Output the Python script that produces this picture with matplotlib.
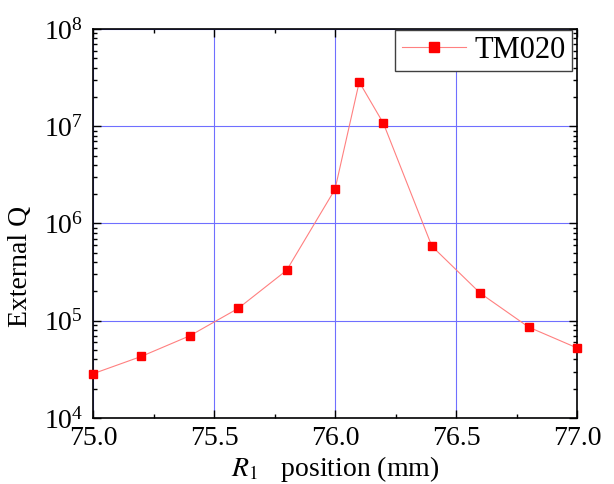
import matplotlib
matplotlib.use("Agg")
import matplotlib.pyplot as plt
from matplotlib.ticker import MultipleLocator, LogLocator, NullFormatter, FormatStrFormatter
import numpy as np

plt.rcParams['font.family'] = ['Liberation Serif', 'DejaVu Serif']
plt.rcParams['mathtext.fontset'] = 'stix'

# datos
posicion = [75.0, 75.2, 75.4, 75.6, 75.8, 76.0, 76.1, 76.2, 76.4, 76.6, 76.8, 77.0]
q_ext = [2.85e4, 4.3e4, 7.0e4, 1.34e5, 3.3e5, 2.25e6, 2.85e7, 1.07e7,
         5.85e5, 1.92e5, 8.6e4, 5.25e4]

fig = plt.figure(figsize=(6.14, 4.84), dpi=100)
ax = fig.add_axes([0.1515, 0.1364, 0.7883, 0.8037])

ax.plot(posicion, q_ext, "-", color="#ff8080", lw=0.8,
        marker="s", markersize=5.5, markerfacecolor="red", markeredgecolor="red",
        label="TM020", clip_on=False, zorder=3)

ax.set_yscale("log")
ax.set_xlim(75.0, 77.0)
ax.set_ylim(1e4, 1e8)

ax.xaxis.set_major_locator(MultipleLocator(0.5))
ax.xaxis.set_minor_locator(MultipleLocator(0.25))
ax.yaxis.set_major_locator(LogLocator(base=10, numticks=10))
ax.yaxis.set_minor_locator(LogLocator(base=10, subs=np.arange(2, 10), numticks=10))
ax.yaxis.set_minor_formatter(NullFormatter())
ax.xaxis.set_major_formatter(FormatStrFormatter("%.1f"))

ax.tick_params(which="both", direction="in", top=True, right=True, labelsize=20, width=1)
ax.tick_params(which="major", length=6)
ax.tick_params(which="minor", length=3)
ax.tick_params(axis="x", pad=6)
ax.tick_params(axis="y", pad=7)

ax.grid(True, which="major", color="#6f6fff", lw=0.8)
for s in ax.spines.values():
    s.set_linewidth(1.2)

ax.set_xlabel(r"$R$$_{\mathrm{1}}$   position (mm)", fontsize=20, labelpad=2)
ax.set_ylabel("External Q", fontsize=20)
ax.yaxis.set_label_coords(-0.124, 0.39)

leg = ax.legend(loc="upper right", bbox_to_anchor=(0.99, 0.998), fontsize=22,
                fancybox=False, framealpha=1, edgecolor="#404040",
                handlelength=2.1, borderaxespad=0, borderpad=0.2,
                handletextpad=0.3, markerscale=1.25)
leg.get_frame().set_linewidth(1.0)

plt.savefig("out.png", dpi=100)
